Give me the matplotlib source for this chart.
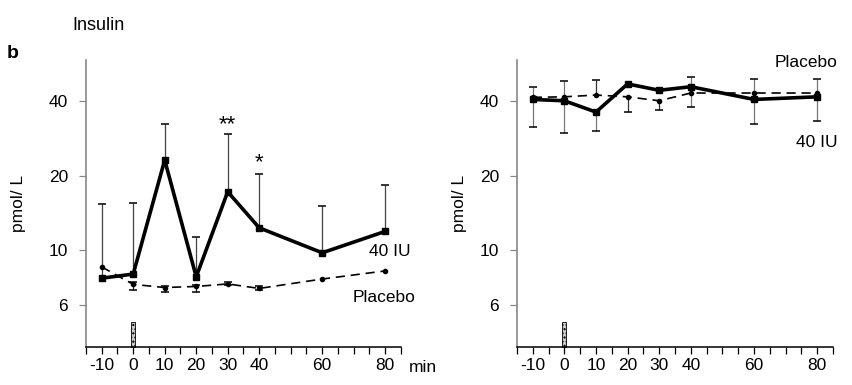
import matplotlib
matplotlib.use("Agg")
import matplotlib.pyplot as plt
import numpy as np

plt.rcParams['font.family'] = ['Liberation Sans', 'DejaVu Sans']

# sampling times (min)
TIMES = np.array([-10, 0, 10, 20, 30, 40, 60, 80])
X_TICKS = [-10, 0, 10, 20, 30, 40, 60, 80]
Y_TICKS = [6, 10, 20, 40]

# left panel, insulin (pmol/L)
left_iu = np.array([7.7, 8.0, 23.1, 7.8, 17.2, 12.3, 9.75, 11.9])
left_iu_lo = np.full(8, np.nan)
left_iu_hi = np.array([15.3, 15.5, 32.3, 11.3, 29.4, 20.2, 15.0, 18.3])
left_pl = np.array([8.55, 7.27, 7.06, 7.13, 7.3, 7.0, 7.64, 8.24])
left_pl_lo = np.array([np.nan, 6.9, 6.75, 6.8, 7.2, 6.9, np.nan, np.nan])
left_pl_hi = np.array([np.nan, 7.4, 7.15, 7.25, 7.45, 7.15, np.nan, np.nan])

# right panel
right_iu = np.array([40.6, 40.1, 36.1, 46.9, 44.2, 45.7, 40.6, 41.6])
right_iu_lo = np.array([31.3, 29.8, 30.3, np.nan, np.nan, 37.9, 32.4, 33.1])
right_iu_hi = np.array([45.4, 48.1, np.nan, np.nan, np.nan, 50.0, 49.2, 49.2])
right_pl = np.array([41.4, 41.6, 42.3, 41.6, 40.1, 43.1, 43.1, 43.1])
right_pl_lo = np.array([np.nan, np.nan, np.nan, 36.1, 36.8, np.nan, np.nan, np.nan])
right_pl_hi = np.array([np.nan, np.nan, 48.5, np.nan, np.nan, np.nan, np.nan, np.nan])

YMIN, YMAX = 4.06, 58.6
INJECTION_TOP = 5.1
FS = 12.5


def whiskers(ax, x, y, lo, hi, color):
    lo_f = np.where(np.isnan(lo), y, lo)
    hi_f = np.where(np.isnan(hi), y, hi)
    ax.vlines(x, lo_f, hi_f, color=color, lw=0.9, zorder=2)
    ax.plot(x, hi, ls='none', marker='_', ms=6, mew=1.1, color='k', zorder=2)
    ax.plot(x, lo, ls='none', marker='_', ms=6, mew=1.1, color='k', zorder=2)


def style_axes(ax, labelpad):
    ax.set_yscale('log')
    ax.set_ylim(YMIN, YMAX)
    ax.set_xlim(-15, 85)
    ax.set_yticks(Y_TICKS)
    ax.set_yticklabels([str(t) for t in Y_TICKS])
    ax.yaxis.set_minor_locator(matplotlib.ticker.NullLocator())
    ax.set_xticks(np.arange(-15, 86, 5))
    ax.set_xticklabels([str(t) if t in X_TICKS else '' for t in np.arange(-15, 86, 5)])
    ax.tick_params(axis='x', direction='out', length=5, width=0.9, pad=3,
                   labelsize=FS, color='k')
    ax.tick_params(axis='y', direction='out', length=5, width=0.9, pad=8,
                   labelsize=FS, color='#888888')
    for s in ('top', 'right'):
        ax.spines[s].set_visible(False)
    ax.spines['left'].set_color('#888888')
    ax.spines['left'].set_linewidth(1.2)
    ax.spines['bottom'].set_linewidth(1.1)
    ax.set_ylabel('pmol/ L', fontsize=FS, labelpad=labelpad)
    # injection marker
    ax.bar([0], [INJECTION_TOP - YMIN], bottom=YMIN, width=1.2,
           facecolor='#cccccc', edgecolor='k', hatch='....', lw=0.6,
           zorder=1, clip_on=False)


fig = plt.figure(figsize=(8.52, 3.85), dpi=100)
ax1 = fig.add_axes([0.1009, 0.0987, 0.3697, 0.7455])
ax2 = fig.add_axes([0.6068, 0.0987, 0.3709, 0.7455])

dash = (0, (5.5, 3.5))

# left panel
whiskers(ax1, TIMES, left_iu, left_iu_lo, left_iu_hi, '#444444')
whiskers(ax1, TIMES, left_pl, left_pl_lo, left_pl_hi, '#222222')
ax1.plot(TIMES, left_pl, color='k', lw=1.2, ls=dash, marker='o', ms=3, zorder=3)
ax1.plot(TIMES, left_iu, color='k', lw=2.6, marker='s', ms=4, zorder=4)
style_axes(ax1, 16)
ax1.text(30, 32.1, '**', ha='center', va='center', fontsize=16)
ax1.text(40, 22.6, '*', ha='center', va='center', fontsize=16)
ax1.text(75, 9.85, '40 IU', ha='left', va='center', fontsize=FS)
ax1.text(69.8, 6.45, 'Placebo', ha='left', va='center', fontsize=FS)
ax1.text(87.5, -0.07, 'min', transform=ax1.get_xaxis_transform(),
         ha='left', va='center', fontsize=FS)

# right panel
whiskers(ax2, TIMES, right_iu, right_iu_lo, right_iu_hi, '#777777')
whiskers(ax2, TIMES, right_pl, right_pl_lo, right_pl_hi, '#333333')
ax2.plot(TIMES, right_pl, color='k', lw=1.2, ls=dash, marker='o', ms=3, zorder=3)
ax2.plot(TIMES, right_iu, color='k', lw=2.6, marker='s', ms=4, zorder=4)
style_axes(ax2, 9)
ax2.text(86.5, 57, 'Placebo', ha='right', va='center', fontsize=FS)
ax2.text(86.5, 27.3, '40 IU', ha='right', va='center', fontsize=FS)

fig.text(72 / 852, 1 - 26 / 385, 'Insulin', ha='left', va='center', fontsize=13)
fig.text(7 / 852, 1 - 53 / 385, 'b', ha='left', va='center', fontsize=14,
         fontweight='bold')

fig.savefig('out.png', dpi=100)
